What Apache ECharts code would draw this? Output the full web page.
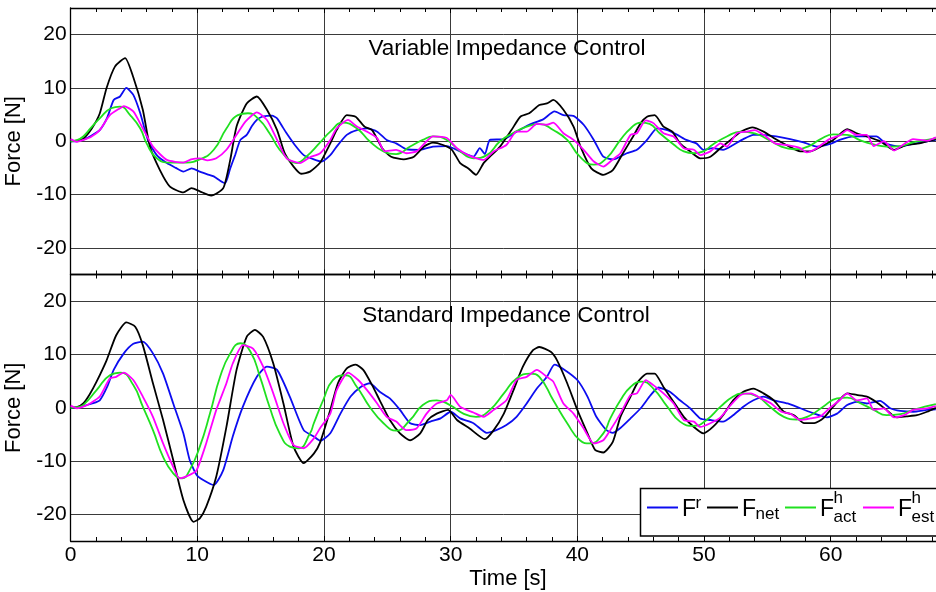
<!DOCTYPE html>
<html>
<head>
<meta charset="utf-8">
<script src="https://cdn.jsdelivr.net/npm/echarts@6/dist/echarts.min.js"></script>
<style>
html,body{margin:0;padding:0;background:#fff;}
#chart{width:936px;height:592px;}
</style>
</head>
<body>
<div id="chart"></div>
<script>
// ---- data: [time s, force N] ----
var topRef = [[0,0],[0.5,0],[1,0.3],[1.6,1],[2.3,2.1],[2.9,4.5],[3.4,7.75],[3.9,8.4],[4.4,10],[4.95,8.7],[5.5,5.25],[6.1,0.25],[6.8,-2.6],[7.6,-4.1],[8.3,-5],[8.9,-5.7],[9.55,-5.1],[10.2,-5.7],[10.8,-6.2],[11.3,-6.6],[11.8,-7.4],[12.2,-7.9],[12.6,-5.1],[13.0,-2.5],[13.4,0.25],[13.9,1.2],[14.3,2.8],[14.7,4],[15.1,4.6],[15.5,4.75],[15.9,4.8],[16.3,4.3],[16.7,2.8],[17.05,1.5],[17.7,-0.7],[18.4,-2.6],[19.2,-3.4],[19.8,-3.8],[20.5,-2.6],[21,-1],[21.8,1.2],[22.6,2.1],[23.4,2.4],[24.2,1.8],[24.95,0.25],[25.7,-0.4],[26.5,-1.5],[27.6,-1.6],[28.6,-1],[29.7,-0.9],[30.75,-1.9],[31.8,-2.9],[32.3,-1.3],[32.7,-2.4],[33.1,0.25],[34.2,0.4],[35.2,1.8],[36.2,3.1],[37.3,4.1],[38.2,5.6],[38.9,4.9],[39.7,4.75],[40.5,3.1],[41.3,0.25],[42.05,-2.9],[42.85,-3.4],[43.9,-2.25],[44.7,-1.6],[45.5,0.25],[46.3,2.4],[47.1,2.1],[47.9,1.2],[48.6,0.25],[49.4,-0.4],[49.95,-1.6],[50.7,-1.3],[51.5,-1.6],[52.3,-0.7],[53.1,0.4],[53.9,1.2],[54.7,1.2],[55.7,0.9],[56.8,0.4],[57.85,-0.2],[58.9,-1],[59.95,-0.5],[60.7,0.25],[61.8,0.9],[62.85,0.9],[63.6,0.9],[64.4,-0.5],[65.5,-1],[66.5,-0.5],[67.6,0],[68.3,0.25]];
var topNet = [[0,0],[0.5,0.1],[1,0.5],[1.7,2.5],[2.3,5.2],[2.84,10],[3.5,14],[4.3,15.6],[4.95,12],[5.7,5.9],[6.26,-1],[7.05,-5.4],[7.84,-8.5],[8.9,-9.6],[9.55,-8.8],[10.2,-9.4],[11.1,-10.2],[12.05,-8.8],[12.6,-3.5],[13.1,2.75],[13.9,7.1],[14.7,8.4],[15.5,5.9],[16.3,2.1],[16.9,-2.25],[17.6,-4.75],[18.2,-6.1],[18.9,-5.7],[19.7,-4],[20.5,-0.4],[21,2.1],[21.8,4.9],[22.5,4.6],[23.2,2.75],[23.8,2.1],[24.6,-1.3],[25.3,-2.9],[26.3,-3.4],[27.1,-2.9],[27.9,-1],[28.6,-0.25],[29.4,-0.7],[30.1,-1.6],[30.75,-4.1],[31.4,-5.1],[32,-6.3],[32.6,-4.1],[33.1,-2.9],[33.9,-1],[34.8,2.1],[35.5,4.6],[36.2,5.25],[37,6.8],[37.6,7.1],[38.1,7.75],[38.9,5.9],[39.7,2.75],[40.3,-1.3],[41.1,-5.1],[42.05,-6.3],[42.8,-5.4],[43.6,-2.25],[44.4,0.9],[45,3.4],[45.5,4.6],[46.1,4.9],[46.8,2.75],[47.5,1.8],[48.1,-0.4],[48.9,-1.9],[49.7,-3.2],[50.5,-2.9],[51.3,-1.3],[52.1,0.25],[52.9,1.8],[53.8,2.6],[54.7,1.8],[55.5,0.6],[56.5,-0.7],[57.6,-1.9],[58.4,-1.9],[59.2,-1],[60.2,0.25],[61.3,2.25],[62.05,1.5],[62.85,0.9],[63.9,0],[65,-1.6],[66,-0.7],[67,-0.4],[68.3,0.4]];
var topAct = [[0,0],[0.5,0.2],[1,0.9],[1.6,2.5],[2.3,4.3],[3.2,6.2],[3.9,6.5],[4.7,4.9],[5.5,2.4],[6,-0.4],[6.8,-3.2],[7.84,-4],[8.9,-4],[10.2,-3.4],[11.3,-1.6],[12.3,2.4],[13.2,4.9],[14,5.25],[14.9,4],[15.7,1.5],[16.5,-1.6],[17.3,-3.6],[17.8,-4.1],[18.6,-2.9],[19.7,-0.2],[20.5,1.8],[21.5,3.5],[22.6,2.4],[23.6,0],[24.7,-1.9],[25.7,-2.4],[26.8,-1],[27.8,0.25],[28.6,0.9],[29.7,0.25],[30.75,-1.9],[31.8,-3.2],[32.85,-2.6],[33.9,0],[34.9,1.5],[36,2.75],[37,3.25],[38.1,2.1],[39.2,0.25],[40.2,-2.9],[41.3,-4.4],[42.3,-3.2],[43.4,0.25],[44.2,2.4],[45,3.5],[45.7,3.25],[46.5,1.5],[47.6,-0.6],[48.4,-1.9],[49.2,-2.25],[49.95,-1.9],[50.7,-0.6],[51.8,0.9],[52.9,1.8],[54,1.5],[55,0.4],[56.1,-1],[57.1,-1.5],[58.2,-1],[59.2,0.4],[60.2,1.3],[61.3,1.2],[62.3,0.2],[63.4,-0.6],[64.4,-1],[65.5,-0.9],[66.5,-0.2],[67.6,0.25],[68.3,0.6]];
var topEst = [[0,0.4],[0.5,-0.1],[1,0.25],[1.6,0.8],[2.3,2.1],[3.1,4.9],[3.9,6.2],[4.2,6.6],[4.95,5.6],[5.7,2.4],[6.5,-1],[7.6,-3.5],[8.9,-4],[9.5,-3.4],[10.2,-3.2],[10.8,-3.6],[11.5,-3.2],[12.3,-1.6],[13.1,1.2],[13.8,3.7],[14.7,5.4],[15.5,4],[16.3,0.25],[17.05,-3.2],[18.1,-4.1],[18.9,-3],[19.7,-2.25],[20.5,0.25],[21,2.4],[21.9,4],[22.6,2.75],[23.4,1.8],[24.2,0.6],[24.8,-1.9],[25.7,-1.6],[26.5,-2.25],[27.3,-1.9],[28.1,0],[28.6,0.9],[29.7,0.6],[30.5,-1.3],[31.5,-2.75],[32.6,-3.5],[33.4,-1.9],[34.4,-0.7],[35.2,1.8],[36,1.8],[36.8,3.25],[37.6,3.1],[38.1,3.5],[38.9,1.5],[39.7,0.25],[40.5,-1.6],[41.3,-3.8],[42.05,-4.75],[42.8,-3.4],[43.4,-2.25],[44.2,1.2],[44.7,1.5],[45.4,3.9],[46,3.4],[46.8,1.5],[47.6,0.9],[48.4,-1.3],[49.2,-1.6],[49.7,-2.6],[50.5,-1.9],[51.3,-0.4],[51.8,-1],[52.6,1.5],[53.4,1.8],[54,2.1],[54.7,1.2],[55.6,-0.4],[56.5,-0.7],[57.6,-1.3],[58.1,-2.1],[58.9,-1.3],[59.9,0.4],[60.7,1.1],[61.3,2.1],[62.05,1.2],[62.85,1.2],[63.4,-0.9],[64.2,0],[65,-1.75],[65.8,-0.5],[66.5,0.4],[67.6,0.1],[68.3,0.75]];

var botRef = [[0,0],[0.5,0],[1,0.3],[1.7,0.8],[2.3,1.4],[2.9,4],[3.4,7.1],[4.2,10.2],[4.95,12],[5.7,12.4],[6.5,10.2],[7.3,6.4],[8.1,0.8],[8.9,-4.8],[9.4,-9.8],[9.95,-12.6],[10.5,-13.6],[11.3,-14.5],[12.05,-11.7],[12.8,-5.4],[13.6,0.2],[14.7,5.8],[15.5,7.7],[16.3,7.1],[17.3,2.1],[18.4,-4.2],[19.2,-5.4],[19.7,-6.2],[20.5,-4.8],[21.3,-1.1],[22.1,2.1],[22.9,3.9],[23.6,4.6],[24.4,3],[25.2,1.75],[26,-0.4],[26.8,-2.9],[27.6,-3.25],[28.4,-2.6],[29.2,-2],[30,-0.75],[30.75,-2],[31.8,-2.9],[32.85,-4.7],[33.6,-4.2],[34.4,-3.25],[35.2,-1.7],[36,0.8],[36.8,3.6],[37.6,5.8],[38.2,8.1],[39,7.1],[40,5.2],[40.8,2.1],[41.5,-1.7],[42.3,-4.2],[42.8,-4.7],[43.4,-3.8],[44.2,-2],[45,-0.1],[45.8,2.4],[46.4,3.8],[47.3,3],[48.1,1.4],[48.9,-0.1],[49.7,-2],[50.5,-2.3],[51.5,-2.6],[52.3,-1.4],[53.1,0.2],[53.9,1.4],[54.7,2.1],[55.5,1.4],[56.6,0.8],[57.6,-0.1],[58.7,-1.1],[59.7,-1.8],[60.5,-1.1],[61.3,0.5],[62.05,1.1],[62.85,0.8],[63.9,1.3],[64.7,-0.1],[65.5,-0.6],[66.5,-0.75],[67.6,-0.4],[68.3,-0.3]];
var botNet = [[0,0],[0.5,0.1],[1,0.8],[1.5,2.5],[2.05,4.9],[2.84,8.9],[3.6,13.6],[4.4,16],[5.1,15.2],[5.7,11.75],[6.5,4.6],[7.3,-2.3],[8.1,-9.8],[8.9,-17.3],[9.7,-21.4],[10.2,-20.75],[10.7,-18.6],[11.5,-12.9],[12.3,-3.6],[13.1,7.1],[13.9,13.3],[14.55,14.6],[15.2,13.3],[16,8.3],[16.8,0.8],[17.6,-7.3],[18.4,-10.4],[19.2,-8.6],[19.7,-6.5],[20.5,-0.4],[21.1,4.6],[21.8,7.4],[22.5,8.1],[23.1,7.1],[23.8,4.25],[24.4,1.4],[25.2,-2.3],[26,-4.8],[26.8,-6.1],[27.6,-4.8],[28.2,-2.3],[28.9,-1.1],[29.8,-0.4],[30.5,-2.3],[31.5,-3.9],[32.7,-5.9],[33.4,-4.2],[34.2,-1.1],[34.96,3.3],[35.7,7.7],[36.5,10.8],[37,11.4],[37.9,10.5],[38.4,8.9],[39.2,4.6],[40,-0.4],[40.8,-4.8],[41.4,-7.9],[42.05,-8.4],[42.8,-6.4],[43.4,-1.7],[44.2,2.1],[44.8,4.9],[45.5,6.4],[46.1,6.4],[46.8,3.9],[47.6,1.1],[48.4,-1.7],[49.2,-3.6],[49.95,-4.8],[50.7,-3.6],[51.5,-1.4],[52.3,1.4],[53.1,3],[53.9,3.6],[54.7,2.7],[55.5,1.4],[56.3,-0.75],[57.1,-1.4],[57.9,-2.9],[58.7,-2.9],[59.4,-2],[60.2,0.2],[61.3,2.7],[62.05,2.4],[62.85,2.1],[63.6,1.1],[64.4,-0.4],[65.2,-1.8],[66,-1.6],[66.8,-1.4],[67.6,-0.75],[68.3,0]];
var botAct = [[0,0],[0.5,0.1],[1,0.5],[2.05,3.3],[3.1,6.1],[3.95,6.6],[4.95,4.25],[5.7,0.2],[6.5,-4.2],[7.3,-9.2],[8.1,-12.3],[8.8,-13.25],[9.4,-11.7],[10.2,-7.3],[11,-1.1],[11.8,5.8],[12.6,10.2],[13.4,12.1],[14.2,10.5],[14.95,5.8],[15.7,0.2],[16.5,-4.8],[17.3,-7.3],[18,-7.6],[18.9,-4.8],[19.2,-2.9],[19.95,1.5],[20.7,5.2],[21.7,6.1],[22.6,3.9],[23.6,0.2],[24.7,-2.9],[25.7,-4.3],[26.8,-2.3],[27.8,0.5],[28.9,1.4],[29.95,0.5],[31,-1.1],[32,-1.7],[33.1,-0.4],[34.2,2.7],[35.2,5.5],[36.3,6.4],[37,5.8],[38.1,1.4],[39.2,-2.9],[40.2,-6.1],[41,-6.7],[42.05,-4.8],[42.6,-2],[43.4,1.4],[44.2,3.9],[45.1,4.9],[46,3.6],[47.1,0.2],[48.1,-2.6],[49.2,-3.4],[50.2,-2.3],[51.3,0.2],[52.3,2.1],[53.1,2.7],[54.2,2.1],[55.2,0.2],[56.3,-1.7],[57.3,-2.2],[58.4,-1.4],[59.4,0.2],[60.5,1.75],[61.3,1.9],[62.3,0.9],[63.4,-0.4],[64.4,-1.4],[65.5,-1.2],[66.5,-0.4],[67.6,0.3],[68.3,0.7]];
var botEst = [[0,0.4],[0.5,-0.1],[1,0.2],[1.6,0.9],[2.3,2.1],[3.1,5.5],[3.6,5.8],[4.2,6.6],[4.95,5.2],[5.7,2.1],[6.5,-1.7],[7.3,-6.7],[8.1,-11.1],[8.6,-13.25],[9.4,-12.6],[9.95,-11.7],[10.7,-6.7],[11.5,-0.4],[12.3,4.6],[12.8,8.3],[13.6,11.75],[14.4,11.1],[15.2,7.7],[16,2.7],[16.8,-2.9],[17.6,-7],[18.4,-7.6],[19.2,-5.75],[19.7,-3.8],[20.5,-1.1],[21,3.3],[21.9,6.6],[22.7,5.2],[23.4,3.3],[24.2,0.8],[24.95,-1.7],[25.7,-2.6],[26.5,-4.2],[27.3,-3.9],[28.1,-1.1],[28.9,0.8],[29.7,1.4],[30,2.4],[30.75,0.2],[31.8,-0.9],[32.6,-1.7],[33.4,-0.4],[34.4,1.4],[35.2,5.2],[36,5.8],[36.8,7.1],[37.6,5.8],[38.1,4.9],[38.9,0.8],[39.7,-1.1],[40.5,-3.9],[41.3,-6.7],[42.05,-6.1],[42.6,-4.2],[43.4,-1.1],[44.2,2.4],[44.7,2.7],[45.4,5.2],[46,4.25],[46.8,2.7],[47.6,0.8],[48.4,-2.3],[49.2,-2.6],[49.7,-3.6],[50.5,-2.9],[51.3,-1.8],[52.1,0.5],[52.9,2.4],[53.7,2.7],[54.5,1.75],[55.3,0.8],[56.1,-0.75],[56.8,-1.1],[57.6,-2.3],[58.4,-2],[59.2,-1.6],[59.9,-0.1],[60.7,1.4],[61.3,2.7],[62.05,1.4],[62.85,1.75],[63.4,-0.4],[64.2,-0.1],[65,-1.8],[65.8,-1.4],[66.5,-0.4],[67.6,-0.1],[68.3,0.3]];

var panelTitles = ['Variable Impedance Control', 'Standard Impedance Control'];
var yLabelValues = [-20, -10, 0, 10, 20];
var seriesNames = ['Fr', 'Fnet', 'Fh_act', 'Fh_est'];
var lineColors = ['#0c0cf0', '#000000', '#20e020', '#ff00ff'];

var chart = echarts.init(document.getElementById('chart'));
var font = 'Liberation Sans, Arial, sans-serif';
var gridCol = '#3a3a3a';

function makeX(grid, pos, labels) {
    return {
        type: 'value', gridIndex: grid, position: pos,
        min: 0, max: 70, interval: 10,
        axisLine: { show: true, onZero: false, lineStyle: { color: '#000', width: 1.3 } },
        axisTick: { show: true, inside: true, length: 5, lineStyle: { color: '#000' } },
        minorTick: { show: true, splitNumber: 5, length: 4, lineStyle: { color: '#000' } },
        splitLine: { show: pos === 'bottom', lineStyle: { color: gridCol, width: 1 } },
        axisLabel: { show: labels, color: '#000', fontSize: 21, fontFamily: font, margin: 4 },
        name: labels ? 'Time [s]' : '',
        nameLocation: 'middle', nameGap: 27,
        nameTextStyle: { color: '#000', fontSize: 22, fontFamily: font, padding: [0, 12, 0, 0] }
    };
}
function makeY(grid) {
    return {
        type: 'value', gridIndex: grid,
        min: -25, max: 25, interval: 5,
        axisLine: { show: true, onZero: false, lineStyle: { color: '#000', width: 1.3 } },
        axisTick: { show: false },
        splitLine: { show: true, lineStyle: { color: ['rgba(0,0,0,0)', gridCol], width: 1 } },
        axisLabel: {
            color: '#000', fontSize: 21, fontFamily: font, margin: 4,
            formatter: function (v) { return yLabelValues.indexOf(v) >= 0 ? String(v) : ''; }
        },
        name: 'Force [N]', nameLocation: 'middle', nameGap: 37,
        nameTextStyle: { color: '#000', fontSize: 22, fontFamily: font }
    };
}

var panels = [[topRef, topNet, topAct, topEst], [botRef, botNet, botAct, botEst]];
var series = [];
panels.forEach(function (sets, p) {
    sets.forEach(function (d, i) {
        series.push({
            name: seriesNames[i], type: 'line', data: d,
            xAxisIndex: p * 2, yAxisIndex: p,
            showSymbol: false, smooth: i === 2 ? 0.5 : 0.2,
            lineStyle: { color: lineColors[i], width: 1.8 },
            itemStyle: { color: lineColors[i] }
        });
    });
});

// legend box with sub/superscripts
var legX = [647, 707, 785, 863];
var legF = [682, 742, 820, 898];
var supText = ['r', '', 'h', 'h'];
var subText = ['', 'net', 'act', 'est'];
var legend = [{
    type: 'rect', z: 100,
    shape: { x: 640.5, y: 488.5, width: 320, height: 47.5 },
    style: { fill: '#fff', stroke: '#000', lineWidth: 1.5 }
}];
legX.forEach(function (x, i) {
    legend.push({ type: 'line', z: 101, shape: { x1: x, y1: 507.5, x2: x + 31, y2: 507.5 },
        style: { stroke: lineColors[i], lineWidth: 2 } });
    legend.push({ type: 'text', z: 101, x: legF[i], y: 510,
        style: { text: 'F', font: '23px ' + font, fill: '#000', align: 'left', verticalAlign: 'middle' } });
    if (supText[i]) legend.push({ type: 'text', z: 101, x: legF[i] + 13.5, y: i === 0 ? 503 : 498,
        style: { text: supText[i], font: '17px ' + font, fill: '#000', align: 'left', verticalAlign: 'middle' } });
    if (subText[i]) legend.push({ type: 'text', z: 101, x: legF[i] + 13.5, y: i === 1 ? 514.5 : 517.5,
        style: { text: subText[i], font: '17px ' + font, fill: '#000', align: 'left', verticalAlign: 'middle' } });
});
legend.push({ type: 'text', z: 101, x: 507, y: 49,
    style: { text: panelTitles[0], font: '22.5px ' + font, fill: '#000', align: 'center', verticalAlign: 'middle' } });
legend.push({ type: 'text', z: 101, x: 506, y: 315.5,
    style: { text: panelTitles[1], font: '22.5px ' + font, fill: '#000', align: 'center', verticalAlign: 'middle' } });

chart.setOption({
    animation: false,
    backgroundColor: '#fff',
    grid: [
        { left: 70.6, top: 8, width: 886.8, height: 266.5, outerBoundsMode: 'none' },
        { left: 70.6, top: 274.5, width: 886.8, height: 266.5, outerBoundsMode: 'none' }
    ],
    xAxis: [makeX(0, 'bottom', false), makeX(0, 'top', false), makeX(1, 'bottom', true), makeX(1, 'top', false)],
    yAxis: [makeY(0), makeY(1)],
    series: series,
    graphic: { elements: legend }
});
</script>
</body>
</html>
